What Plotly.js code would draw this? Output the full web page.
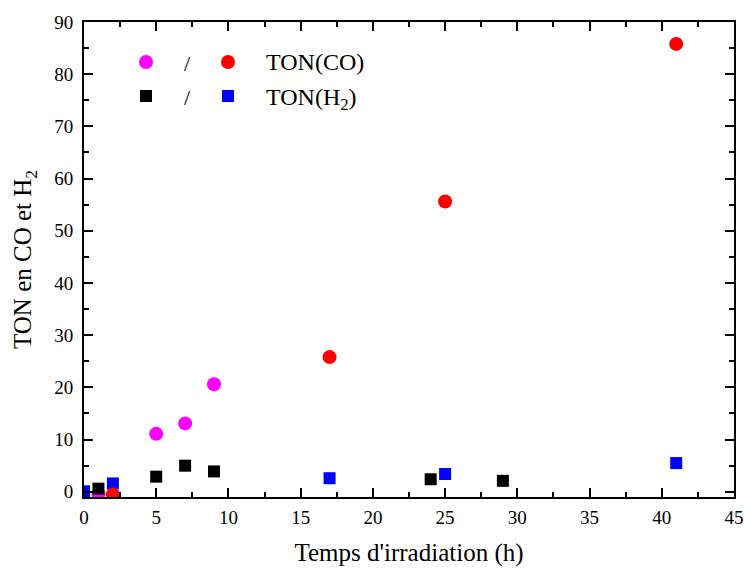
<!DOCTYPE html>
<html>
<head>
<meta charset="utf-8">
<script src="https://cdn.plot.ly/plotly-3.0.1.min.js"></script>
<style>html,body{margin:0;padding:0;background:#fff}#chart{width:744px;height:568px}</style>
</head>
<body>
<div id="chart"></div>
<script>
// Series 1 (magenta circles) – TON(CO)
const coA_x = [1, 5, 7, 9];
const coA_y = [-0.4, 11.1, 13.1, 20.6];
// Series 2 (red circles) – TON(CO)
const coB_x = [2, 17, 25, 41];
const coB_y = [-0.5, 25.8, 55.6, 85.8];
// Series 3 (black squares) – TON(H2)
const h2A_x = [1, 5, 7, 9, 24, 29];
const h2A_y = [0.6, 2.9, 5.0, 3.9, 2.4, 2.1];
// Series 4 (blue squares) – TON(H2)
const h2B_x = [0, 2, 17, 25, 41];
const h2B_y = [0.1, 1.6, 2.6, 3.4, 5.5];

const xTickVals = [0,5,10,15,20,25,30,35,40,45];
const yTickVals = [0,10,20,30,40,50,60,70,80,90];

const FONT = 'Liberation Serif, Times New Roman, serif';

function sc(x, y, color, symbol, size) {
  return {x: x, y: y, type: 'scatter', mode: 'markers', cliponaxis: true,
    marker: {color: color, symbol: symbol, size: size, line: {width: 0}}, showlegend: false, hoverinfo: 'skip'};
}

const data = [
  sc(coA_x, coA_y, '#ff00ff', 'circle', 14),
  sc(h2A_x, h2A_y, '#000000', 'square', 12),
  sc(h2B_x, h2B_y, '#0000ff', 'square', 12),
  sc(coB_x, coB_y, '#ff0000', 'circle', 14)
];

// legend glyphs (paper coords, pixel sized)
function glyph(type, px, py, color, half) {
  return {type: type, xref: 'paper', yref: 'paper', xsizemode: 'pixel', ysizemode: 'pixel',
    xanchor: px, yanchor: py, x0: -half, x1: half, y0: -half, y1: half,
    fillcolor: color, line: {width: 0}};
}
const W = 650, H = 475, L = 84, T = 22;
function px(x) { return (x - L) / W; }
function py(y) { return 1 - (y - T) / H; }
function ann(x, y, text, size, xa) {
  return {xref: 'paper', yref: 'paper', x: px(x), y: py(y), xanchor: xa, yanchor: 'middle',
    text: text, showarrow: false, font: {family: FONT, size: size}};
}

const layout = {
  width: 744, height: 568,
  margin: {l: 84, r: 10, t: 22, b: 71},
  paper_bgcolor: '#fff', plot_bgcolor: '#fff',
  font: {family: FONT, size: 19, color: '#000'},
  xaxis: {
    range: [0, 45], tickvals: xTickVals, ticks: 'inside', ticklen: 9, tickwidth: 2, tickcolor: '#000',
    showline: true, linewidth: 2, linecolor: '#000', mirror: 'allticks', showgrid: false, zeroline: false,
    minor: {dtick: 2.5, tick0: 0, ticks: 'inside', ticklen: 5, tickwidth: 2, tickcolor: '#000', showgrid: false},
    tickfont: {family: FONT, size: 19}, ticklabelstandoff: 2,
    title: {text: "Temps d'irradiation (h)", font: {family: FONT, size: 25}, standoff: 17}
  },
  yaxis: {
    range: [-1, 90], tickvals: yTickVals, ticks: 'inside', ticklen: 9, tickwidth: 2, tickcolor: '#000',
    showline: true, linewidth: 2, linecolor: '#000', mirror: 'allticks', showgrid: false, zeroline: false,
    minor: {dtick: 5, tick0: 0, ticks: 'inside', ticklen: 5, tickwidth: 2, tickcolor: '#000', showgrid: false},
    tickfont: {family: FONT, size: 19}, ticklabelstandoff: 5,
    title: {text: 'TON en CO et H<sub>2</sub>', font: {family: FONT, size: 25}, standoff: 15}
  },
  shapes: [
    glyph('circle', px(146), py(62), '#ff00ff', 7),
    glyph('circle', px(228), py(62), '#ff0000', 7),
    glyph('rect', px(146), py(96), '#000000', 6),
    glyph('rect', px(228), py(96), '#0000ff', 6)
  ],
  annotations: [
    ann(187, 63, '/', 22, 'center'),
    ann(187, 97, '/', 22, 'center'),
    ann(264, 62, 'TON(CO)', 24, 'left'),
    ann(264, 99, 'TON(H<sub>2</sub>)', 24, 'left')
  ]
};

Plotly.newPlot('chart', data, layout, {displayModeBar: false, staticPlot: true});
</script>
</body>
</html>
